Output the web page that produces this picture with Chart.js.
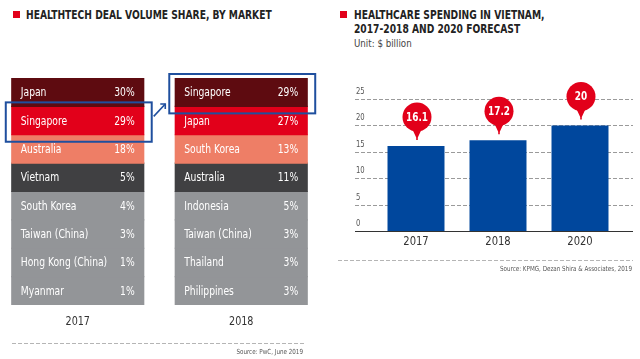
<!DOCTYPE html>
<html><head><meta charset="utf-8">
<script src="https://cdn.jsdelivr.net/npm/chart.js@4"></script>
<style>
html,body{margin:0;padding:0;background:#fff;width:640px;height:359px;overflow:hidden;position:relative;font-family:"DejaVu Sans Condensed","DejaVu Sans",sans-serif;}
.sq{position:absolute;width:7px;height:7px;background:#e2001a;}
.t{position:absolute;font-weight:bold;font-size:11.5px;color:#222;line-height:14px;white-space:nowrap;transform:scaleX(0.885);transform-origin:0 0;}
.u{position:absolute;font-size:10.5px;color:#444;white-space:nowrap;transform:scaleX(0.92);transform-origin:0 0;}
#c1{position:absolute;left:-4px;top:0;}
#c2{position:absolute;left:320px;top:0;}
</style></head><body>
<div class="sq" style="left:13px;top:11px"></div>
<div class="t" style="left:26px;top:8px">HEALTHTECH DEAL VOLUME SHARE, BY MARKET</div>
<div class="sq" style="left:340px;top:11px"></div>
<div class="t" style="left:354px;top:8px">HEALTHCARE SPENDING IN VIETNAM,<br>2017-2018 AND 2020 FORECAST</div>
<div class="u" style="left:354px;top:37px">Unit: $ billion</div>
<canvas id="c1" width="327" height="359" style="width:327px;height:359px"></canvas>
<canvas id="c2" width="320" height="359" style="width:320px;height:359px"></canvas>
<script>
// ---- Left graphic data ----
const years = ['2017', '2018'];
const markets2017 = ['Japan','Singapore','Australia','Vietnam','South Korea','Taiwan (China)','Hong Kong (China)','Myanmar'];
const share2017 = [30, 29, 18, 5, 4, 3, 1, 1];
const markets2018 = ['Singapore','Japan','South Korea','Australia','Indonesia','Taiwan (China)','Thailand','Philippines'];
const share2018 = [29, 27, 13, 11, 5, 3, 3, 3];
const rankSlot = [1, 1];           // every ranked row occupies one equal slot
const highlight2017 = 1;           // Singapore row index in 2017
const highlight2018 = 0;           // Singapore row index in 2018
const sourceLeft = 'Source: PwC, June 2019';

// ---- Right chart data ----
const spendYears = ['2017', '2018', '2020'];
const spendValues = [16.1, 17.2, 20];
const spendTicks = [0, 5, 10, 15, 20, 25];
const sourceRight = 'Source: KPMG, Dezan Shira & Associates, 2019';

const FONT = '"DejaVu Sans Condensed","DejaVu Sans",sans-serif';
const SX = 0.89;
const rowColors = ['#5e0b10','#e2001a','#ee7e66','#404042','#939598','#939598','#939598','#939598'];

function txt(ctx, s, x, y, align, sx) {
  ctx.save();
  ctx.translate(x, y);
  ctx.scale(sx || SX, 1);
  ctx.textAlign = align;
  ctx.fillText(s, 0, 0);
  ctx.restore();
}

const leftDatasets = rowColors.map((c, i) => ({
  data: rankSlot.slice(),
  backgroundColor: c,
  borderWidth: 0,
  inflateAmount: 0.6,
  barPercentage: 0.807,
  categoryPercentage: 1,
  stack: 's'
}));

const leftPlugin = {
  id: 'leftDeco',
  afterDatasetsDraw(chart) {
    const ctx = chart.ctx;
    ctx.save();
    const names = [markets2017, markets2018];
    const shares = [share2017, share2018];
    ctx.font = '11.5px ' + FONT;
    ctx.fillStyle = '#fff';
    ctx.textBaseline = 'middle';
    chart.data.datasets.forEach((ds, di) => {
      const meta = chart.getDatasetMeta(di);
      meta.data.forEach((el, ci) => {
        const l = el.x - el.width / 2, r = el.x + el.width / 2;
        const cy = (el.y + el.base) / 2 + 1;
        txt(ctx, names[ci][di], l + 9, cy, 'left');
        txt(ctx, shares[ci][di] + '%', r - 9, cy, 'right');
      });
    });
    // highlight boxes
    ctx.strokeStyle = '#1f4f9e';
    ctx.lineWidth = 2;
    const boxes = [[highlight2017, 0], [highlight2018, 1]];
    const rects = boxes.map(([di, ci]) => {
      const el = chart.getDatasetMeta(di).data[ci];
      const top = Math.min(el.y, el.base), bot = Math.max(el.y, el.base);
      const x0 = el.x - el.width / 2 - 6, x1 = el.x + el.width / 2 + 8;
      const y0 = top - 4, y1 = bot + 7;
      ctx.strokeRect(x0, y0, x1 - x0, y1 - y0);
      return [x0, y0, x1, y1];
    });
    // arrow
    const ax0 = rects[0][2] + 2, ay0 = rects[0][1] + 14;
    const ax1 = rects[1][0] - 4, ay1 = rects[1][1] + 30;
    ctx.lineWidth = 1.6;
    ctx.beginPath(); ctx.moveTo(ax0, ay0); ctx.lineTo(ax1, ay1); ctx.stroke();
    ctx.beginPath();
    ctx.moveTo(ax1 - 5, ay1); ctx.lineTo(ax1, ay1); ctx.lineTo(ax1, ay1 + 5);
    ctx.stroke();
    // year labels
    const xs = chart.scales.x;
    ctx.fillStyle = '#333';
    ctx.font = '12px ' + FONT;
    years.forEach((y, i) => txt(ctx, y, xs.getPixelForValue(i), 322, 'center'));
    // dashed rule and source
    ctx.strokeStyle = '#b5b5b5';
    ctx.lineWidth = 1;
    ctx.setLineDash([4, 2]);
    ctx.beginPath(); ctx.moveTo(16, 343.5); ctx.lineTo(309, 343.5); ctx.stroke();
    ctx.setLineDash([]);
    ctx.fillStyle = '#555';
    ctx.font = '7px ' + FONT;
    txt(ctx, sourceLeft, 307, 352, 'right');
    ctx.restore();
  }
};

new Chart(document.getElementById('c1'), {
  type: 'bar',
  data: { labels: years, datasets: leftDatasets },
  options: {
    responsive: false, animation: false,
    layout: { padding: { top: 78, bottom: 54, left: 0, right: 0 } },
    plugins: { legend: { display: false }, tooltip: { enabled: false } },
    scales: {
      x: { display: false, stacked: true },
      y: { display: false, stacked: true, reverse: true, min: 0, max: 8 }
    }
  },
  plugins: [leftPlugin]
});

// ---- Right chart ----
const rightPlugin = {
  id: 'rightDeco',
  beforeDatasetsDraw(chart) {
    const ctx = chart.ctx, ys = chart.scales.y;
    ctx.save();
    ctx.font = '8px ' + FONT;
    ctx.fillStyle = '#555';
    ctx.textBaseline = 'middle';
    spendTicks.forEach(v => {
      const y = Math.round(ys.getPixelForValue(v)) + 0.5;
      if (v !== 0) {
        ctx.strokeStyle = '#9a9a9a';
        ctx.lineWidth = 1;
        ctx.setLineDash([4, 2]);
        ctx.beginPath(); ctx.moveTo(35, y); ctx.lineTo(313, y); ctx.stroke();
        ctx.setLineDash([]);
      }
      txt(ctx, String(v), 36, y - 8, 'left', 0.95);
    });
    ctx.restore();
  },
  afterDatasetsDraw(chart) {
    const ctx = chart.ctx, ys = chart.scales.y, xs = chart.scales.x;
    ctx.save();
    // baseline
    const y0 = Math.round(ys.getPixelForValue(0)) + 0.5;
    ctx.strokeStyle = '#333';
    ctx.lineWidth = 1;
    ctx.beginPath(); ctx.moveTo(35, y0); ctx.lineTo(313, y0); ctx.stroke();
    // bubbles
    const meta = chart.getDatasetMeta(0);
    meta.data.forEach((el, i) => {
      const cx = el.x + 1, cy = el.y - 29, r = 14.5;
      ctx.fillStyle = '#e2001a';
      ctx.beginPath(); ctx.arc(cx, cy, r, 0, Math.PI * 2); ctx.fill();
      ctx.beginPath();
      ctx.moveTo(cx - 5, cy + r - 3);
      ctx.lineTo(cx + 5, cy + r - 3);
      ctx.lineTo(cx + 0.8, cy + r + 6);
      ctx.lineTo(cx + 0.8, el.y - 6);
      ctx.lineTo(cx - 0.8, el.y - 6);
      ctx.lineTo(cx - 0.8, cy + r + 6);
      ctx.closePath(); ctx.fill();
      ctx.fillStyle = '#fff';
      ctx.font = 'bold 11.5px ' + FONT;
      ctx.textBaseline = 'middle';
      txt(ctx, String(spendValues[i]), cx, cy + 1, 'center', 0.86);
    });
    // x labels
    ctx.fillStyle = '#333';
    ctx.font = '12.5px ' + FONT;
    ctx.textBaseline = 'middle';
    spendYears.forEach((y, i) => txt(ctx, y, xs.getPixelForValue(i), 242, 'center'));
    // dashed rule + source
    ctx.strokeStyle = '#b5b5b5';
    ctx.setLineDash([4, 2]);
    ctx.beginPath(); ctx.moveTo(18, 260.5); ctx.lineTo(313, 260.5); ctx.stroke();
    ctx.setLineDash([]);
    ctx.fillStyle = '#555';
    ctx.font = '7px ' + FONT;
    txt(ctx, sourceRight, 312, 269, 'right');
    ctx.restore();
  }
};

new Chart(document.getElementById('c2'), {
  type: 'bar',
  data: {
    labels: spendYears,
    datasets: [{
      data: spendValues,
      backgroundColor: '#00479d',
      borderWidth: 0,
      barPercentage: 0.695,
      categoryPercentage: 1
    }]
  },
  options: {
    responsive: false, animation: false,
    layout: { padding: { top: 99, bottom: 128, left: 55, right: 19 } },
    plugins: { legend: { display: false }, tooltip: { enabled: false } },
    scales: {
      x: { display: false },
      y: { display: false, min: 0, max: 25 }
    }
  },
  plugins: [rightPlugin]
});
</script>
</body></html>
